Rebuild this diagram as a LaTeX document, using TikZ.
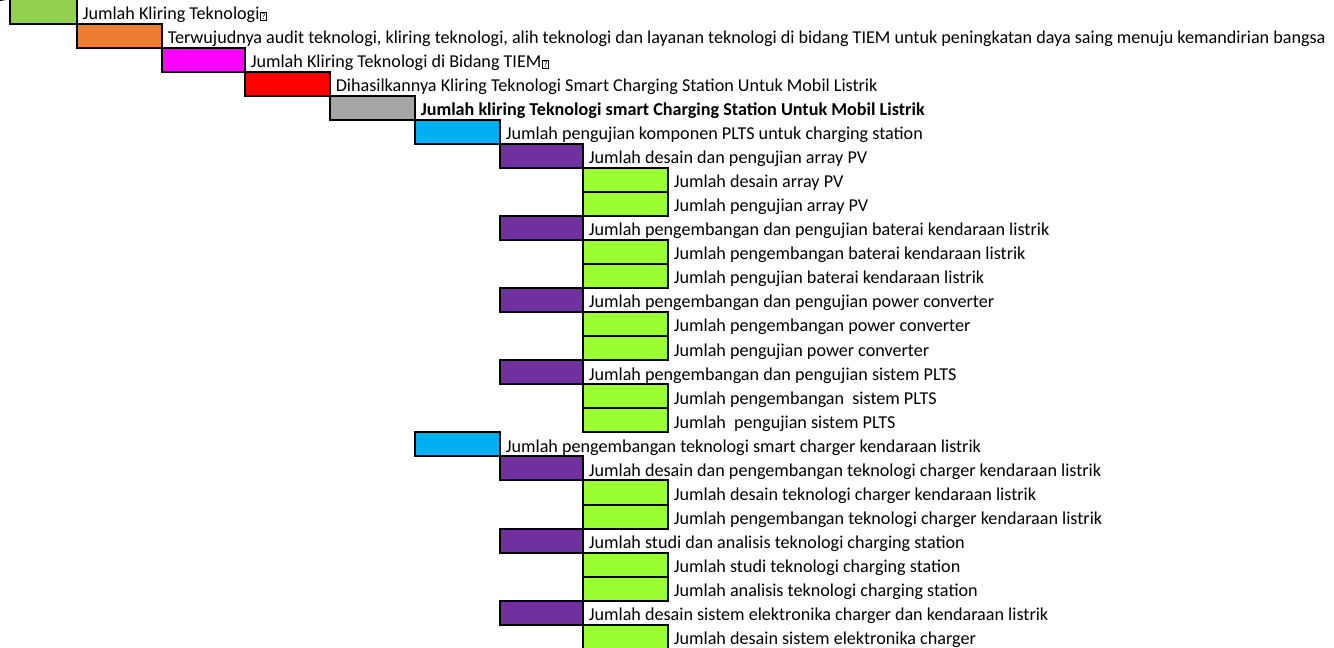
\documentclass[tikz,border=0pt]{standalone}
\usepackage{fontspec}
\setmainfont{Carlito}
\usetikzlibrary{positioning}

\definecolor{lvzero}{HTML}{92D050}
\definecolor{lvone}{HTML}{ED7D31}
\definecolor{lvtwo}{HTML}{FF00FF}
\definecolor{lvthree}{HTML}{FF0000}
\definecolor{lvfour}{HTML}{A6A6A6}
\definecolor{lvfive}{HTML}{00B0F0}
\definecolor{lvsix}{HTML}{7030A0}
\definecolor{lvseven}{HTML}{99FF33}

% box for a glyph the sheet could not show
\newcommand{\qbox}{\kern0.6pt\raisebox{0.2pt}{\setlength\fboxsep{0.5pt}\setlength\fboxrule{0.45pt}\fbox{\fontsize{6.5}{6.5}\selectfont\vphantom{0}?}}}

\begin{document}
\begin{tikzpicture}[x=0.75pt, y=-0.75pt,
	box/.style={draw, line width=1.5pt, inner sep=0pt, minimum height=18.04pt},
	lbl/.style={anchor=base west, inner sep=0pt, xshift=3.4pt, yshift=3.9pt, font=\fontsize{13.6}{15}\selectfont},
	rowA/.style={box, fill=lvzero, minimum width=50.25pt},
	rowB/.style={box, fill=lvone, minimum width=63.75pt},
	rowC/.style={box, fill=lvtwo, minimum width=62.25pt},
	rowD/.style={box, fill=lvthree, minimum width=63.75pt},
	rowE/.style={box, fill=lvfour, minimum width=63.75pt},
	rowF/.style={box, fill=lvfive, minimum width=63.75pt},
	rowG/.style={box, fill=lvsix, minimum width=62.25pt},
	rowH/.style={box, fill=lvseven, minimum width=63.75pt}]

\useasboundingbox (0,0) rectangle (1334,647);

% goal levels
\node[rowA] (b0) at (43.5,11.5) {};
\node[lbl] (t0) at (b0.south east) {Jumlah Kliring Teknologi\qbox};
\coordinate (cut) at (0,0);
\draw[line width=1.5pt] (cut) -- (b0.north west);

\node[rowB] (b1) at (119.5,35.55) {};
\node[lbl] (t1) at (b1.south east) {Terwujudnya audit teknologi, kliring teknologi, alih teknologi dan layanan teknologi di bidang TIEM untuk peningkatan daya saing menuju kemandirian bangsa};

\node[rowC] (b2) at (203.5,59.6) {};
\node[lbl] (t2) at (b2.south east) {Jumlah Kliring Teknologi di Bidang TIEM\qbox};

\node[rowD] (b3) at (287.5,83.65) {};
\node[lbl] (t3) at (b3.south east) {Dihasilkannya Kliring Teknologi Smart Charging Station Untuk Mobil Listrik};

\node[rowE] (b4) at (372.5,107.7) {};
\node[lbl, font=\fontsize{13.6}{15}\selectfont\bfseries] (t4) at (b4.south east) {Jumlah kliring Teknologi smart Charging Station Untuk Mobil Listrik};

% PLTS branch
\node[rowF] (b5) at (457.5,131.75) {};
\node[lbl] (t5) at (b5.south east) {Jumlah pengujian komponen PLTS untuk charging station};

\node[rowG] (b6) at (541.5,155.8) {};
\node[lbl] (t6) at (b6.south east) {Jumlah desain dan pengujian array PV};
\node[rowH] (b7) at (625.5,179.85) {};
\node[lbl] (t7) at (b7.south east) {Jumlah desain array PV};
\node[rowH] (b8) at (625.5,203.9) {};
\node[lbl] (t8) at (b8.south east) {Jumlah pengujian array PV};

\node[rowG] (b9) at (541.5,227.95) {};
\node[lbl] (t9) at (b9.south east) {Jumlah pengembangan dan pengujian baterai kendaraan listrik};
\node[rowH] (b10) at (625.5,252.0) {};
\node[lbl] (t10) at (b10.south east) {Jumlah pengembangan baterai kendaraan listrik};
\node[rowH] (b11) at (625.5,276.05) {};
\node[lbl] (t11) at (b11.south east) {Jumlah pengujian baterai kendaraan listrik};

\node[rowG] (b12) at (541.5,300.1) {};
\node[lbl] (t12) at (b12.south east) {Jumlah pengembangan dan pengujian power converter};
\node[rowH] (b13) at (625.5,324.15) {};
\node[lbl] (t13) at (b13.south east) {Jumlah pengembangan power converter};
\node[rowH] (b14) at (625.5,348.2) {};
\node[lbl] (t14) at (b14.south east) {Jumlah pengujian power converter};

\node[rowG] (b15) at (541.5,372.25) {};
\node[lbl] (t15) at (b15.south east) {Jumlah pengembangan dan pengujian sistem PLTS};
\node[rowH] (b16) at (625.5,396.3) {};
\node[lbl] (t16) at (b16.south east) {Jumlah pengembangan\ \ sistem PLTS};
\node[rowH] (b17) at (625.5,420.35) {};
\node[lbl] (t17) at (b17.south east) {Jumlah\ \ pengujian sistem PLTS};

% smart charger branch
\node[rowF] (b18) at (457.5,444.4) {};
\node[lbl] (t18) at (b18.south east) {Jumlah pengembangan teknologi smart charger kendaraan listrik};

\node[rowG] (b19) at (541.5,468.45) {};
\node[lbl] (t19) at (b19.south east) {Jumlah desain dan pengembangan teknologi charger kendaraan listrik};
\node[rowH] (b20) at (625.5,492.5) {};
\node[lbl] (t20) at (b20.south east) {Jumlah desain teknologi charger kendaraan listrik};
\node[rowH] (b21) at (625.5,516.55) {};
\node[lbl] (t21) at (b21.south east) {Jumlah pengembangan teknologi charger kendaraan listrik};

\node[rowG] (b22) at (541.5,540.6) {};
\node[lbl] (t22) at (b22.south east) {Jumlah studi dan analisis teknologi charging station};
\node[rowH] (b23) at (625.5,564.65) {};
\node[lbl] (t23) at (b23.south east) {Jumlah studi teknologi charging station};
\node[rowH] (b24) at (625.5,588.7) {};
\node[lbl] (t24) at (b24.south east) {Jumlah analisis teknologi charging station};

\node[rowG] (b25) at (541.5,612.75) {};
\node[lbl] (t25) at (b25.south east) {Jumlah desain sistem elektronika charger dan kendaraan listrik};
\node[rowH] (b26) at (625.5,636.8) {};
\node[lbl] (t26) at (b26.south east) {Jumlah desain sistem elektronika charger};

\end{tikzpicture}
\end{document}
